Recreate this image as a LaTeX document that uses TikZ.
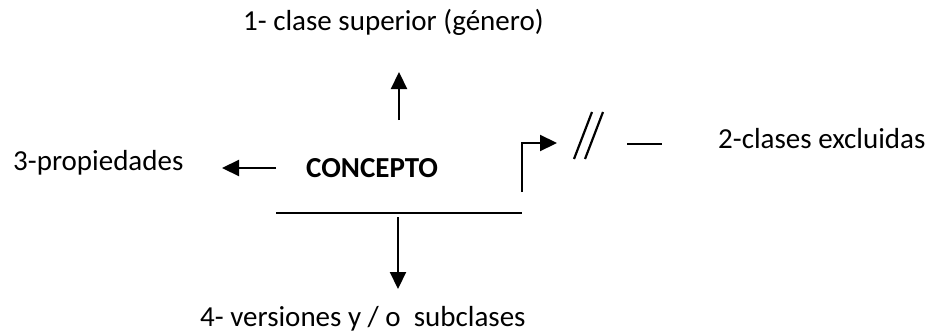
\documentclass[tikz,border=0pt]{standalone}
\usepackage{fontspec}
\setmainfont{Carlito}
\usetikzlibrary{arrows.meta}
\tikzset{
  lbl/.style={inner sep=0pt, anchor=base west, font=\fontsize{29}{35}\selectfont},
  line/.style={line width=2.2pt},
  arr/.style={line width=2.2pt, -{Triangle[length=17pt,width=16pt]}},
}
\begin{document}
\begin{tikzpicture}[x=1pt,y=-1pt]
\useasboundingbox (0,0) rectangle (929,332);

% labels
\node[lbl] (sup)  at (243,30)  {1- clase superior (género)};
\node[lbl] (prop) at (13,170)  {3-propiedades};
\node[lbl,font=\fontsize{29}{35}\selectfont\bfseries] (con) at (306,177) {CONCEPTO};
\node[lbl] (ver)  at (200,326) {4- versiones y / o~ subclases};
\node[lbl] (exc)  at (718,148) {2-clases excluidas};

% arrow end points
\coordinate (upA) at (399,120);  \coordinate (upB) at (399,72);
\coordinate (lfA) at (276,168);  \coordinate (lfB) at (222,168);
\coordinate (dnA) at (398,217);  \coordinate (dnB) at (398,289);
\coordinate (barL) at (276,213); \coordinate (barR) at (522,213);
\coordinate (elA) at (522,192);  \coordinate (elK) at (522,143); \coordinate (elB) at (557,143);

\draw[arr] (upA) -- (upB);
\draw[arr] (lfA) -- (lfB);
\draw[arr] (dnA) -- (dnB);
\draw[line] (barL) -- (barR);
\draw[arr] (elA) -- (elK) -- (elB);

% exclusion marks
\coordinate (s1a) at (574,159); \coordinate (s1b) at (592,112);
\coordinate (s2a) at (585,159); \coordinate (s2b) at (603,112);
\coordinate (dA) at (627,144);  \coordinate (dB) at (662,144);
\draw[line] (s1a) -- (s1b);
\draw[line] (s2a) -- (s2b);
\draw[line] (dA) -- (dB);
\end{tikzpicture}
\end{document}
